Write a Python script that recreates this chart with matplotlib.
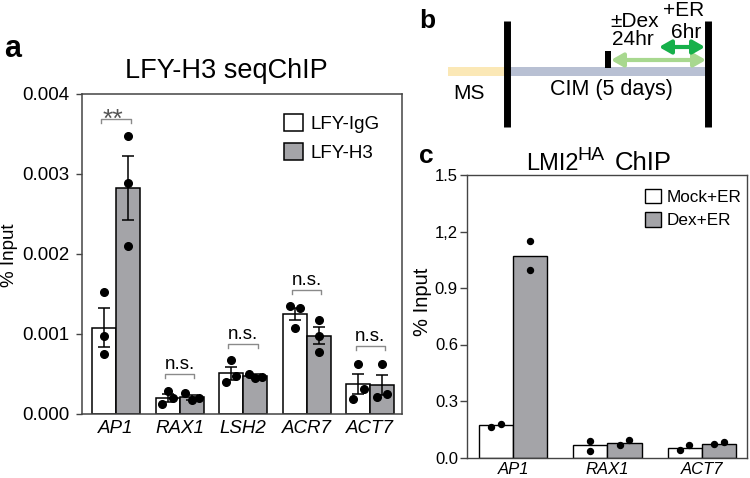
import numpy as np
import matplotlib
matplotlib.use("Agg")
import matplotlib.pyplot as plt
from matplotlib.patches import Rectangle

plt.rcParams["font.family"] = ["Liberation Sans", "DejaVu Sans"]

# ---- panel a : LFY-H3 seqChIP (% input)
genes_a = ["AP1", "RAX1", "LSH2", "ACR7", "ACT7"]
igg_mean = [0.00108, 0.000205, 0.00051, 0.00125, 0.000375]
igg_sem = [0.00024, 0.00005, 0.00008, 0.00008, 0.000125]
h3_mean = [0.00282, 0.00021, 0.000475, 0.00098, 0.00036]
h3_sem = [0.0004, 0.00003, 0.00002, 0.00011, 0.000125]
igg_reps = [[0.00153, 0.00098, 0.00075], [0.000125, 0.00029, 0.0002],
            [0.0004, 0.00067, 0.00048], [0.00135, 0.00132, 0.00108],
            [0.000625, 0.000317, 0.000188]]
h3_reps = [[0.00347, 0.00289, 0.0021], [0.000267, 0.00018, 0.0002],
           [0.0005, 0.000445, 0.000465], [0.00117, 0.00098, 0.00078],
           [0.000625, 0.000217, 0.000246]]
sig_a = ["**", "n.s.", "n.s.", "n.s.", "n.s."]
sig_y = [0.00369, 0.0005, 0.00088, 0.00155, 0.00085]

# ---- panel c : LMI2-HA ChIP
genes_c = ["AP1", "RAX1", "ACT7"]
mock_mean = [0.172, 0.065, 0.053]
dex_mean = [1.071, 0.078, 0.074]
mock_reps = [[0.163, 0.176], [0.088, 0.034], [0.039, 0.065]]
dex_reps = [[1.147, 0.993], [0.065, 0.092], [0.074, 0.08]]

# horizontal scatter of the replicate dots (x units of each panel)
igg_jit = [[0, 0, 0], [-0.09, 0, 0.08], [-0.08, 0, 0.08], [-0.08, 0.08, 0], [0, 0.09, -0.08]]
h3_jit = [[0, 0, 0], [-0.11, 0, 0.11], [-0.1, 0, 0.11], [0, 0, 0], [0, -0.08, 0.08]]
mock_jit = [[-0.05, 0.05], [0, 0], [-0.045, 0.05]]
dex_jit = [[0, 0], [-0.05, 0.05], [-0.048, 0.052]]

W, H = 750, 478
GRAY = "#a4a4a8"
fig = plt.figure(figsize=(7.5, 4.78), dpi=100)

def fx(px):
    return px / W

def fy(py):
    return 1 - py / H

# ---------------- panel b (schematic, pixel space)
axb = fig.add_axes([0, 0, 1, 1])
axb.set_xlim(0, W)
axb.set_ylim(H, 0)
axb.axis("off")
axb.add_patch(Rectangle((448, 67), 59, 9, color="#fbe8b6", lw=0))
axb.add_patch(Rectangle((507, 67), 201, 9, color="#b8c0d3", lw=0))
for xb in (507, 708):
    axb.plot([xb, xb], [21, 127], color="k", lw=5, solid_capstyle="butt")
axb.add_patch(Rectangle((605, 51), 6, 17, color="k", lw=0))
axb.annotate("", xy=(706, 60), xytext=(611, 60),
             arrowprops=dict(arrowstyle="<|-|>,head_length=0.7,head_width=0.4",
                             color="#a8d88f", lw=3, shrinkA=0, shrinkB=0,
                             mutation_scale=10))
axb.annotate("", xy=(705, 47), xytext=(659, 47),
             arrowprops=dict(arrowstyle="<|-|>,head_length=0.7,head_width=0.4",
                             color="#16b04a", lw=3, shrinkA=0, shrinkB=0,
                             mutation_scale=10))
tb = dict(fontsize=15, ha="center", va="baseline")
axb.text(635, 27, "±Dex", **tb)
axb.text(633, 45, "24hr", **tb)
axb.text(684, 16, "+ER", **tb)
axb.text(686, 38, "6hr", **tb)
axb.text(469, 99, "MS", **tb)
axb.text(611, 95, "CIM (5 days)", fontsize=15.5, ha="center", va="baseline")

# ---------------- panel a
axa = fig.add_axes([fx(82), fy(414), fx(320), 320 / H])
x = np.arange(len(genes_a))
bw = 0.377
ekw = dict(ecolor="k", elinewidth=1.1, capsize=4.5, capthick=1.1)
axa.bar(x - bw / 2, igg_mean, bw, color="white", edgecolor="k", lw=1.1,
        yerr=igg_sem, error_kw=ekw, label="LFY-IgG", zorder=2)
axa.bar(x + bw / 2, h3_mean, bw, color=GRAY, edgecolor="k", lw=1.1,
        yerr=h3_sem, error_kw=ekw, label="LFY-H3", zorder=2)
for i in range(len(genes_a)):
    axa.plot(x[i] - bw / 2 + np.array(igg_jit[i]), igg_reps[i], "o", color="k", ms=5.5, zorder=3)
    axa.plot(x[i] + bw / 2 + np.array(h3_jit[i]), h3_reps[i], "o", color="k", ms=5.5, zorder=3)
    xl, xr = x[i] - 0.23, x[i] + 0.23
    yb = sig_y[i]
    axa.plot([xl, xl, xr, xr], [yb - 0.00005, yb, yb, yb - 0.00005], color="#8a8a8a", lw=1.0)
    if sig_a[i] == "**":
        axa.annotate(sig_a[i], (x[i] - 0.05, yb), xytext=(0, -5.5), textcoords="offset points",
                     ha="center", va="baseline", fontsize=19, color="#555555")
    else:
        axa.annotate(sig_a[i], (x[i], yb), xytext=(0, 3.5), textcoords="offset points",
                     ha="center", va="baseline", fontsize=13.5)
axa.set_xlim(-0.535, 4.5)
axa.set_ylim(0, 0.004)
axa.set_yticks([0, 0.001, 0.002, 0.003, 0.004])
axa.set_yticklabels(["0.000", "0.001", "0.002", "0.003", "0.004"])
axa.set_xticks(x)
axa.set_xticklabels(genes_a, style="italic")
axa.tick_params(axis="x", length=0, pad=4, labelsize=13.5)
axa.tick_params(axis="y", length=4, width=1, pad=5, labelsize=13.5, color="#444444")
for s in axa.spines.values():
    s.set_color("#444444")
    s.set_linewidth(1.1)
axa.legend(loc="upper left", bbox_to_anchor=(0.631, 0.938), frameon=False,
           fontsize=13.5, handlelength=1.0, handleheight=1.0, handletextpad=0.4,
           labelspacing=0.55, borderpad=0, borderaxespad=0)
fig.text(fx(226), fy(78), "LFY-H3 seqChIP", fontsize=19.5, ha="center", va="baseline")
fig.text(fx(9), fy(255), "% Input", fontsize=13.5, rotation=90, ha="center", va="center")

# ---------------- panel c
axc = fig.add_axes([fx(467), fy(457.5), fx(280), 282.5 / H])
xc = np.arange(len(genes_c))
bwc = 0.363
axc.bar(xc - bwc / 2, mock_mean, bwc, color="white", edgecolor="k", lw=1.0,
        label="Mock+ER", zorder=2)
axc.bar(xc + bwc / 2, dex_mean, bwc, color=GRAY, edgecolor="k", lw=1.0,
        label="Dex+ER", zorder=2)
for i in range(len(genes_c)):
    axc.plot(xc[i] - bwc / 2 + np.array(mock_jit[i]), mock_reps[i], "o", color="k", ms=4.3, zorder=3)
    axc.plot(xc[i] + bwc / 2 + np.array(dex_jit[i]), dex_reps[i], "o", color="k", ms=4.3, zorder=3)
axc.set_xlim(-0.49, 2.48)
axc.set_ylim(0, 1.5)
axc.set_yticks([0, 0.3, 0.6, 0.9, 1.2, 1.5])
axc.set_yticklabels(["0.0", "0.3", "0.6", "0.9", "1,2", "1.5"])
axc.set_xticks(xc)
axc.set_xticklabels(genes_c, style="italic")
axc.tick_params(axis="x", length=0, pad=3, labelsize=12)
axc.tick_params(axis="y", length=5, width=1, pad=1.5, labelsize=12, color="#444444")
for s in axc.spines.values():
    s.set_color("#444444")
    s.set_linewidth(1.0)
axc.legend(loc="upper left", bbox_to_anchor=(0.636, 0.952), frameon=False,
           fontsize=12.3, handlelength=0.95, handleheight=0.95, handletextpad=0.3,
           labelspacing=0.42, borderpad=0, borderaxespad=0)
# title with superscript HA, built from three pieces
fig.text(fx(526), fy(170), "LMI2", fontsize=17, ha="left", va="baseline")
fig.text(fx(577), fy(160), "HA", fontsize=14, ha="left", va="baseline")
fig.text(fx(615), fy(170), "ChIP", fontsize=18.5, ha="left", va="baseline")
fig.text(fx(423), fy(302), "% Input", fontsize=14.5, rotation=90, ha="center", va="center")

# ---------------- panel letters
fig.text(fx(4), fy(57), "a", fontsize=22, fontweight="bold", va="baseline")
fig.text(fx(419), fy(28), "b", fontsize=19, fontweight="bold", va="baseline")
fig.text(fx(419), fy(163), "c", fontsize=19, fontweight="bold", va="baseline")

fig.savefig("out.png", dpi=100)
